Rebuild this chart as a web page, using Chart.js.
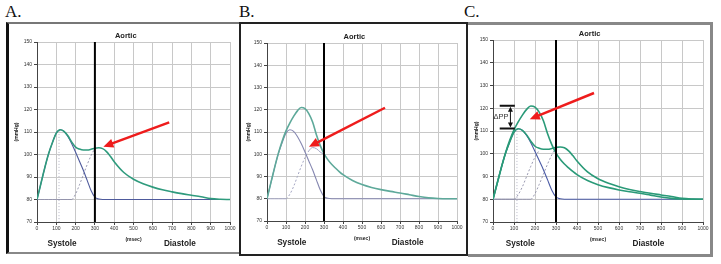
<!DOCTYPE html>
<html>
<head>
<meta charset="utf-8">
<script src="https://cdn.jsdelivr.net/npm/chart.js@4.4.1/dist/chart.umd.min.js"></script>
<style>
body { margin:0; width:721px; height:264px; background:#fff; position:relative; overflow:hidden; }
.lbl { position:absolute; top:2px; font:17px 'Liberation Serif', serif; color:#111; }
.panel { position:absolute; box-sizing:border-box; background:#fff; }
canvas { position:absolute; }
</style>
</head>
<body>
<div class="lbl" style="left:5px">A.</div>
<div class="lbl" style="left:239px">B.</div>
<div class="lbl" style="left:464px">C.</div>

<div class="panel" style="left:6px;top:22px;width:236px;height:232px;border-left:3px solid #111;border-top:2px solid #777;border-bottom:2px solid #888"></div>
<div class="panel" style="left:239px;top:22px;width:229px;height:234px;border:2px solid #222"></div>
<div class="panel" style="left:468px;top:22px;width:245px;height:235px;border:3px solid #888;border-left:none"></div>

<canvas id="cA" width="228" height="226" style="left:10px;top:26px"></canvas>
<canvas id="cB" width="223" height="229" style="left:242px;top:25px"></canvas>
<canvas id="cC" width="240" height="228" style="left:470px;top:26px"></canvas>

<script>
// time axis (msec)
const msec = [0,20,40,60,80,100,120,140,160,180,200,220,240,260,280,300,320,340,360,380,400,
              450,500,550,600,650,700,750,800,850,900,950,1000];

// forward (incident) wave, mmHg
const forwardWave = [80,87,94,100.3,105.3,109.5,111,110.3,108,104.8,101,97,93,88.5,84,81,80.2,80,80,80,80,
                     80,80,80,80,80,80,80,80,80,80,80,80];

// aortic pressure, late reflection (A)
const pressureA = [80,87,94,100.3,105.3,109.5,111,110.3,108.3,105.5,103.3,102.4,102,102,102.3,102.8,103,102.6,101.3,99.2,96.8,
                   92,89,87,85.5,84.3,83.4,82.6,81.9,81.2,80.4,80.1,80];
// late reflected wave (A)
const reflectedLate = [80,80,80,80,80,80,80,80,80,80,82.5,86.5,91,95.5,99.5,102.8,null,null,null,null,null,
                       null,null,null,null,null,null,null,null,null,null,null,null];

// aortic pressure, early reflection (B)
const pressureB = [80,87,94,100.5,106,110.5,114,117,119.5,121,120.5,118.3,114.5,108.8,104,100.3,97.6,95.5,93.8,92.2,90.8,
                   88.2,86.4,85.1,84.1,83.3,82.6,81.8,81,80.4,80.1,80,80];
// early reflected wave (B)
const reflectedEarly = [80,80,80,80,80,80,82,85.5,90,94.5,98.5,101.5,103,102.5,101,99.8,null,null,null,null,null,
                        null,null,null,null,null,null,null,null,null,null,null,null];

const endSystole = 300;
const peakForward = [114, 111];        // msec, mmHg
const arrowA = [[685, 114.3], [344, 103.5]];   // tail, head
const arrowB = [[621, 120.9], [221, 103.4]];
const arrowC = [[481, 126.7], [175, 115.2]];
const deltaPP = { x: 83, bar: [32, 104], low: 111.1, high: 121.1 };

const yTicks = [70, 150, 10];  // min, max, step
const xTicks = [0, 1000, 100];
const systoleLabelX = 130, diastoleLabelX = 740;

function pts(arr, upTo) {
    const out = [];
    msec.forEach((t, i) => {
        if (arr[i] == null) return;
        if (upTo != null && t > upTo) return;
        out.push({x: t, y: arr[i]});
    });
    return out;
}

function line(data, color, width, extra) {
    return Object.assign({
        data: data, borderColor: color, borderWidth: width, pointRadius: 0,
        fill: false, cubicInterpolationMode: 'monotone'
    }, extra || {});
}

function dashFrom(start) {
    return { borderDash: ctx => ctx.p0.parsed.x >= start ? [2, 2] : undefined };
}

function arrow(ctx, c, a, col) {
    const xs = c.scales.x, ys = c.scales.y;
    const x0 = xs.getPixelForValue(a[0][0]), y0 = ys.getPixelForValue(a[0][1]);
    const x1 = xs.getPixelForValue(a[1][0]), y1 = ys.getPixelForValue(a[1][1]);
    const ang = Math.atan2(y1 - y0, x1 - x0);
    const hl = 10, hw = 4.5;
    ctx.save();
    ctx.strokeStyle = col; ctx.fillStyle = col; ctx.lineWidth = 2.5;
    ctx.beginPath();
    ctx.moveTo(x0, y0);
    ctx.lineTo(x1 - Math.cos(ang) * hl * 0.8, y1 - Math.sin(ang) * hl * 0.8);
    ctx.stroke();
    ctx.beginPath();
    ctx.moveTo(x1, y1);
    ctx.lineTo(x1 - Math.cos(ang) * hl + Math.sin(ang) * hw, y1 - Math.sin(ang) * hl - Math.cos(ang) * hw);
    ctx.lineTo(x1 - Math.cos(ang) * hl - Math.sin(ang) * hw, y1 - Math.sin(ang) * hl + Math.cos(ang) * hw);
    ctx.closePath();
    ctx.fill();
    ctx.restore();
}

function makeChart(id, datasets, lay, arr, extraDraw) {
    const textPlugin = {
        id: 'texts',
        afterDraw(c) {
            const ctx = c.ctx, a = c.chartArea, xs = c.scales.x;
            ctx.save();
            ctx.fillStyle = '#222';
            ctx.textAlign = 'center';
            ctx.textBaseline = 'middle';
            ctx.font = 'bold 7.5px "Liberation Sans", Arial';
            ctx.fillText('Aortic', a.left + 0.46 * (a.right - a.left), a.top - 6);
            ctx.font = 'bold 8.2px "Liberation Sans", Arial';
            ctx.fillText('Systole', xs.getPixelForValue(systoleLabelX), a.bottom + 22);
            ctx.fillText('Diastole', xs.getPixelForValue(diastoleLabelX), a.bottom + 22);
            ctx.restore();
            if (extraDraw) extraDraw(c);
            arrow(ctx, c, arr, '#ee1c1c');
        }
    };
    return new Chart(document.getElementById(id), {
        type: 'line',
        data: { datasets: datasets },
        plugins: [textPlugin],
        options: {
            responsive: false, animation: false, devicePixelRatio: 1,
            layout: { padding: { left: 0, top: lay.top, right: lay.right, bottom: lay.bottom } },
            plugins: { legend: { display: false }, tooltip: { enabled: false }, title: { display: false } },
            scales: {
                x: {
                    type: 'linear', min: xTicks[0], max: xTicks[1],
                    ticks: { stepSize: xTicks[2], color: '#333', font: { size: 5, family: 'Liberation Sans' }, padding: 1, maxRotation: 0,
                             callback: v => String(v) },
                    grid: { color: '#c8c8c8', tickColor: '#444', tickLength: 3 },
                    border: { color: '#444' },
                    title: { display: true, text: '(msec)', color: '#222', font: { size: 5, weight: 'bold', family: 'Liberation Sans' }, padding: { top: 2, bottom: 4 } },
                    afterFit: s => { s.height = 25; }
                },
                y: {
                    min: yTicks[0], max: yTicks[1],
                    ticks: { stepSize: yTicks[2], color: '#333', font: { size: 5, family: 'Liberation Sans' }, padding: 2 },
                    grid: { color: '#c8c8c8', tickColor: '#444', tickLength: 3 },
                    border: { color: '#444' },
                    title: { display: true, text: '(mmHg)', color: '#222', font: { size: 5, weight: 'bold', family: 'Liberation Sans' }, padding: { top: 4, bottom: 2 } },
                    afterFit: s => { s.width = lay.yw; }
                }
            }
        }
    });
}

const vline = col => line([{x: endSystole, y: yTicks[0]}, {x: endSystole, y: yTicks[1]}], col, 2, {cubicInterpolationMode: 'default', tension: 0});
const peakMark = line([{x: peakForward[0], y: yTicks[0]}, {x: peakForward[0], y: peakForward[1]}], '#b8b8c8', 1, {borderDash: [1, 2], tension: 0});

// A: late reflected wave
makeChart('cA', [
    vline('#000'),
    line(pts(pressureA), '#2f9b7d', 1.6),
    line(pts(forwardWave), '#4e5a9c', 1.1),
    line(pts(reflectedLate), '#8d8da8', 0.9, {segment: dashFrom(180)}),
    peakMark
], {yw: 27, top: 16, right: 8, bottom: 5}, arrowA);

// B: early reflected wave
makeChart('cB', [
    vline('#000'),
    line(pts(pressureB), '#5ea99a', 1.6),
    line(pts(forwardWave), '#8587b0', 1.1),
    line(pts(reflectedEarly), '#a3a5c2', 1, {segment: { borderDash: ctx => (ctx.p0.parsed.x >= 100 && ctx.p0.parsed.x < 220) ? [2, 2] : undefined }})
], {yw: 25, top: 18, right: 8, bottom: 8}, arrowB);

// C: both
makeChart('cC', [
    vline('#000'),
    line(pts(pressureB), '#2a9a78', 1.6),
    line(pts(pressureA), '#2a9a78', 1.6),
    line(pts(forwardWave), '#4a5aa5', 1.1),
    line(pts(reflectedEarly, 220), '#8d8da8', 0.9, {segment: dashFrom(100)}),
    line(pts(reflectedLate), '#8d8da8', 0.9, {segment: dashFrom(180)}),
    peakMark
], {yw: 23, top: 14, right: 7, bottom: 7}, arrowC, c => {
    const ctx = c.ctx, xs = c.scales.x, ys = c.scales.y;
    const xb0 = xs.getPixelForValue(deltaPP.bar[0]), xb1 = xs.getPixelForValue(deltaPP.bar[1]);
    const yh = ys.getPixelForValue(deltaPP.high), yl = ys.getPixelForValue(deltaPP.low);
    const xv = xs.getPixelForValue(deltaPP.x);
    ctx.save();
    ctx.strokeStyle = '#111'; ctx.fillStyle = '#111'; ctx.lineWidth = 1.8;
    ctx.beginPath();
    ctx.moveTo(xb0, yh); ctx.lineTo(xb1, yh);
    ctx.moveTo(xb0, yl); ctx.lineTo(xb1, yl);
    ctx.stroke();
    ctx.lineWidth = 1;
    ctx.beginPath(); ctx.moveTo(xv, yh + 4); ctx.lineTo(xv, yl - 4); ctx.stroke();
    ctx.beginPath(); ctx.moveTo(xv, yh + 1); ctx.lineTo(xv - 2.5, yh + 6); ctx.lineTo(xv + 2.5, yh + 6); ctx.fill();
    ctx.beginPath(); ctx.moveTo(xv, yl - 1); ctx.lineTo(xv - 2.5, yl - 6); ctx.lineTo(xv + 2.5, yl - 6); ctx.fill();
    ctx.font = '7.5px "Liberation Sans", Arial';
    ctx.fillStyle = '#333';
    ctx.textAlign = 'right'; ctx.textBaseline = 'middle';
    ctx.fillText('\u0394PP', xv - 2, (yh + yl) / 2);
    ctx.restore();
});
</script>
</body>
</html>
